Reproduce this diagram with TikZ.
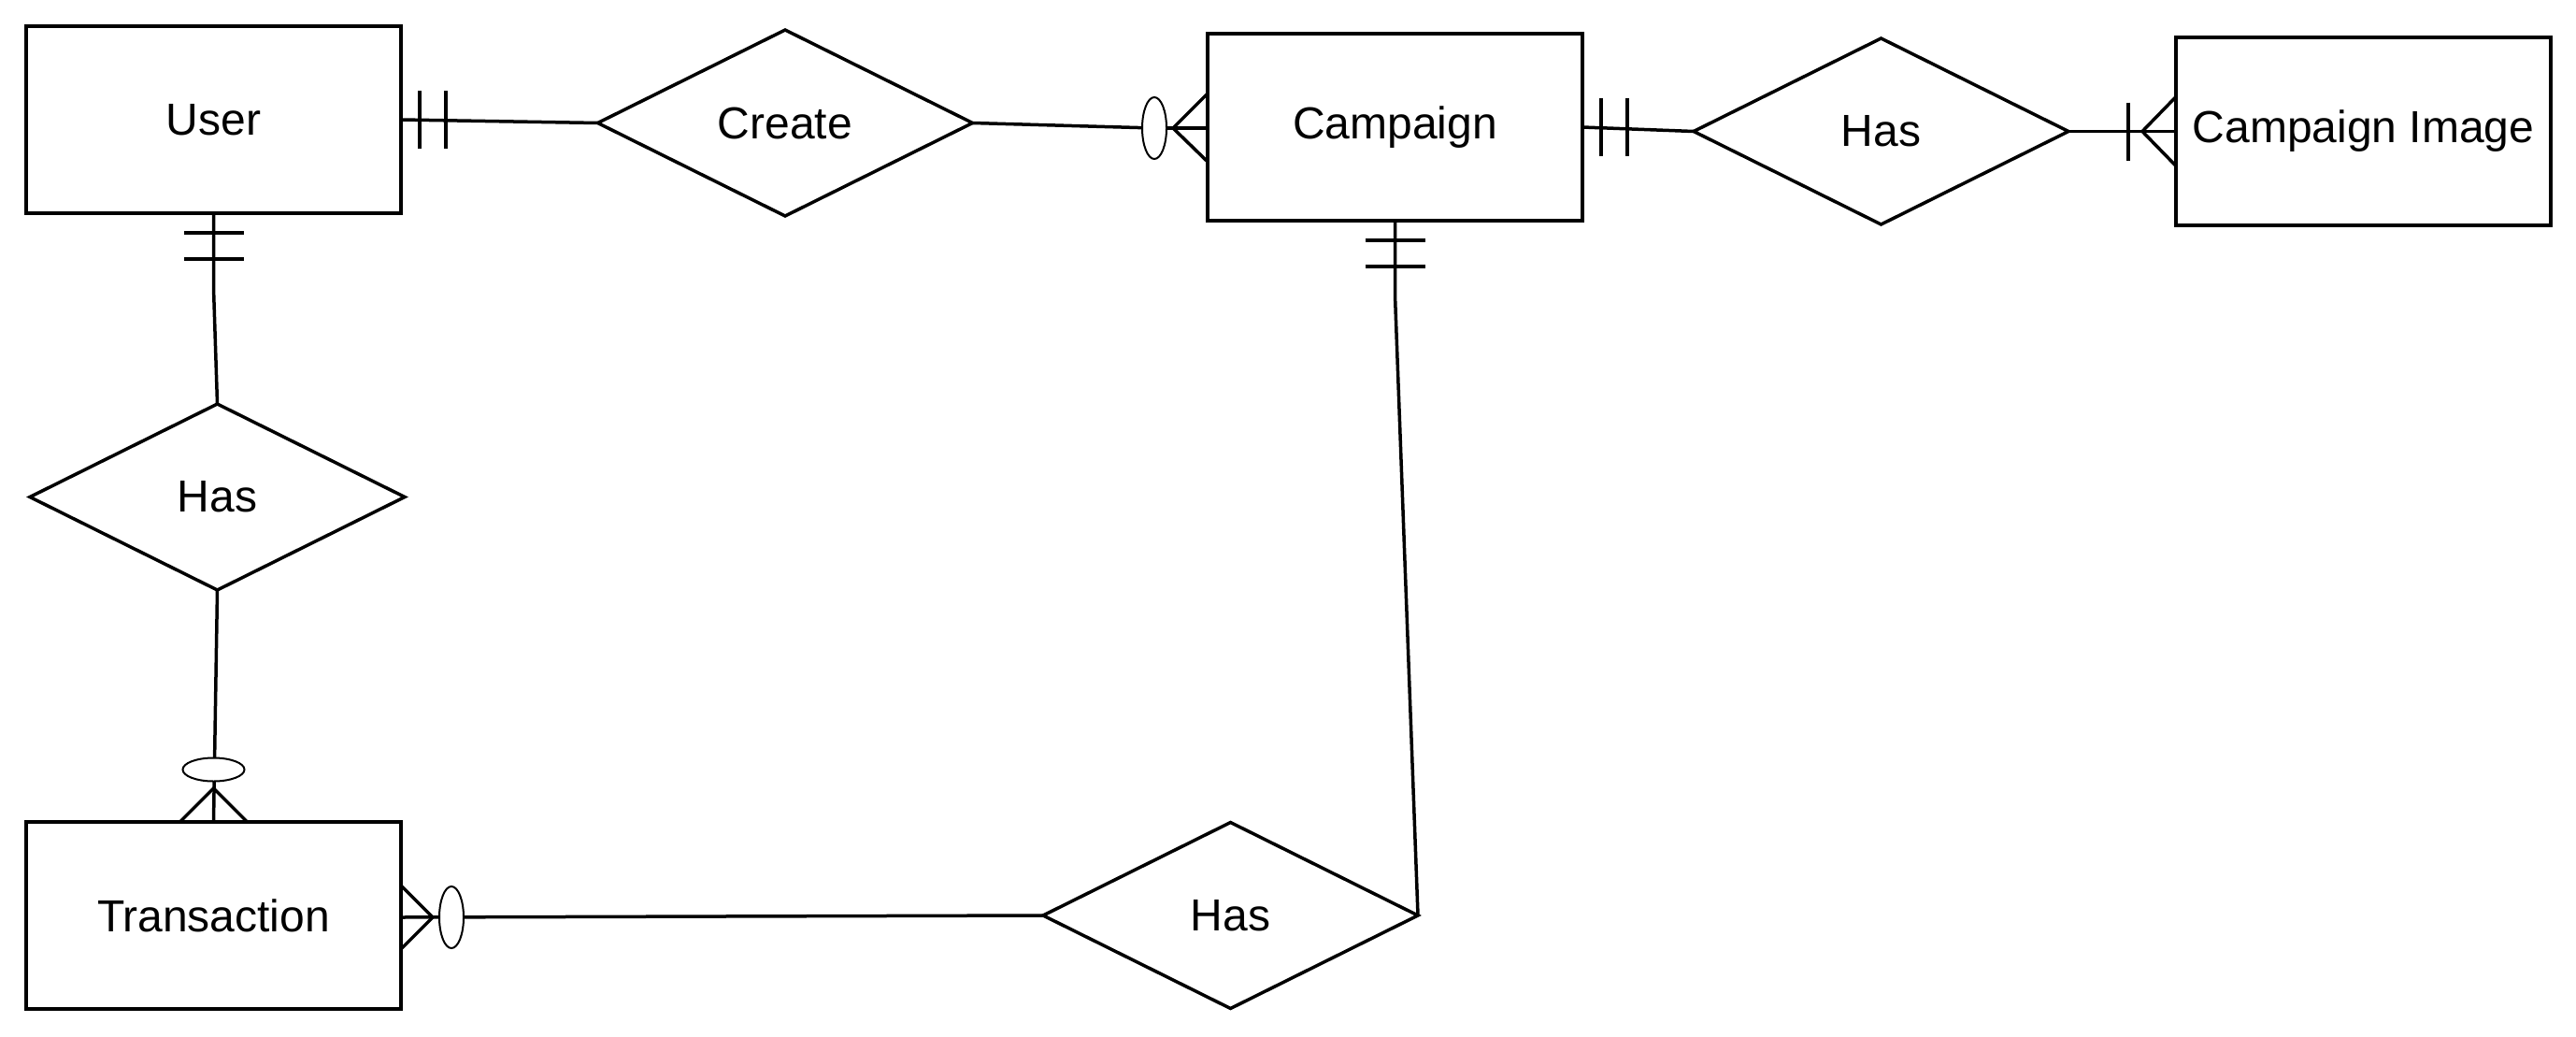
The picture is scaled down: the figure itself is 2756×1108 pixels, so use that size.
\documentclass[tikz,border=0pt]{standalone}
\usepackage{fontspec}
\setmainfont{Liberation Sans}
\usetikzlibrary{shapes.geometric,calc}
\begin{document}
\begin{tikzpicture}[x=1pt,y=-1pt,
  entity/.style={draw,line width=4pt,rectangle,minimum width=401pt,minimum height=200pt,inner sep=0pt,outer sep=0pt,font=\fontsize{48}{58}\selectfont},
  rel/.style={draw,line width=3.5pt,diamond,minimum width=401pt,minimum height=199pt,inner sep=0pt,outer sep=0pt,font=\fontsize{48}{58}\selectfont},
  link/.style={line width=3.5pt},
  optmark/.style={draw,line width=2pt,fill=white}
]
\useasboundingbox (0,0) rectangle (2756,1108);

% entities
\node[entity] (user) at (228.5,128) {User};
\node[entity] (camp) at (1492.5,136) {Campaign};
\node[entity] (img) at (2528.5,140.5) {Campaign Image};
\node[entity] (trans) at (228.5,979) {Transaction};

% relationships
\node[rel] (create) at (840,131.5) {Create};
\node[rel] (hasimg) at (2012.5,140.5) {Has};
\node[rel] (hastr) at (232.5,531.5) {Has};
\node[rel] (hascamp) at (1316.5,979) {Has};

% User -- Create -- Campaign
\draw[link] (user.east) -- (create.west);
\draw[link] ($(user.east)+(20,-31)$) -- ++(0,62);
\draw[link] ($(user.east)+(48,-31)$) -- ++(0,62);
\draw[link] (create.east) -- ($(camp.west)+(-57,1)$);
\draw[link] ($(camp.west)+(-44,1)$) -- ($(camp.west)+(0,1)$);
\draw[link] ($(camp.west)+(0,-36)$) -- ($(camp.west)+(-37,1)$) -- ($(camp.west)+(0,37)$);
\draw[optmark] ($(camp.west)+(-57,1)$) ellipse [x radius=13, y radius=33];

% Campaign -- Has -- Campaign Image
\draw[link] (camp.east) -- (hasimg.west);
\draw[link] ($(camp.east)+(20,-31)$) -- ++(0,62);
\draw[link] ($(camp.east)+(48,-31)$) -- ++(0,62);
\draw[link] (hasimg.east) -- (img.west);
\draw[link] ($(img.west)+(-51,-31)$) -- ++(0,62);
\draw[link] ($(img.west)+(0,-37)$) -- ($(img.west)+(-36,0)$) -- ($(img.west)+(0,37)$);

% User -- Has -- Transaction
\draw[link] (user.south) -- ++(0,80) -- (hastr.north);
\draw[link] ($(user.south)+(-32,21)$) -- ++(64,0);
\draw[link] ($(user.south)+(-32,49)$) -- ++(64,0);
\draw[link] (hastr.south) -- (trans.north);
\draw[link] ($(trans.north)+(-36,0)$) -- ($(trans.north)+(0,-36)$) -- ($(trans.north)+(36,0)$);
\draw[optmark] ($(trans.north)+(0,-56)$) ellipse [x radius=33, y radius=12.5];

% Transaction -- Has -- Campaign
\draw[link] ($(trans.east)+(0,2)$) -- ($(hascamp.west)+(0,0)$);
\draw[link] ($(trans.east)+(0,-32)$) -- ($(trans.east)+(34,2)$) -- ($(trans.east)+(0,36)$);
\draw[optmark] ($(trans.east)+(54,2)$) ellipse [x radius=13, y radius=33];
\draw[link] (camp.south) -- ++(0,80) -- (hascamp.east);
\draw[link] ($(camp.south)+(-32,21)$) -- ++(64,0);
\draw[link] ($(camp.south)+(-32,49)$) -- ++(64,0);
\end{tikzpicture}
\end{document}
